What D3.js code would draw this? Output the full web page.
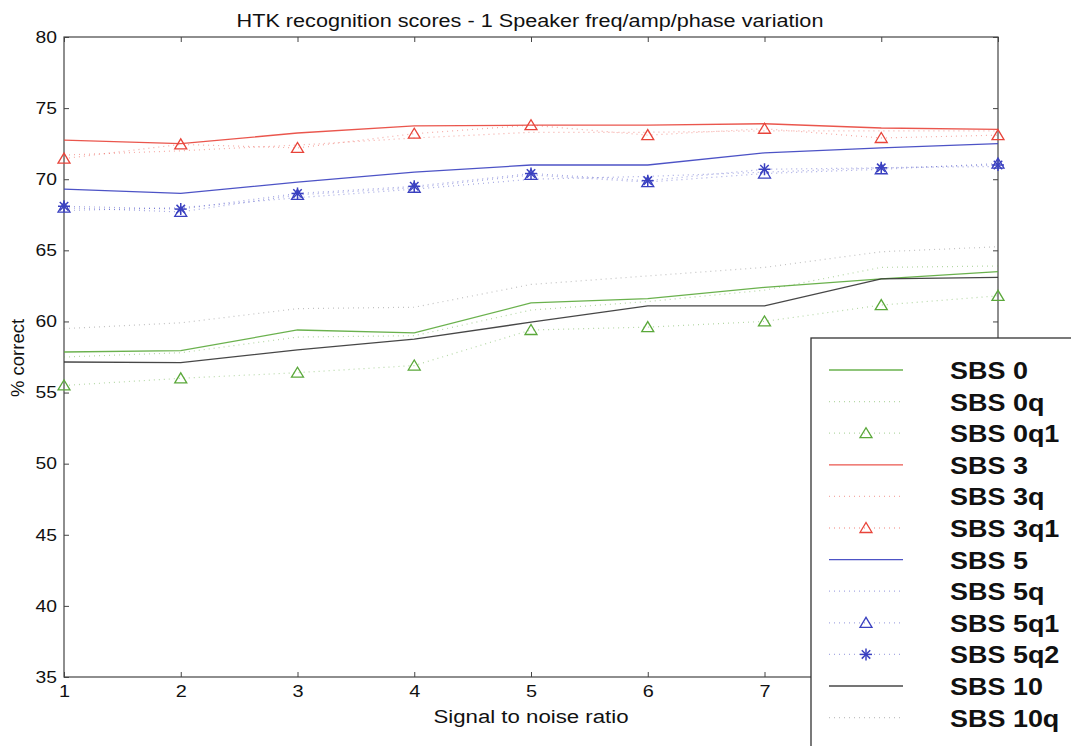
<!DOCTYPE html>
<html>
<head>
<meta charset="UTF-8">
<title>HTK</title>
<style>
  body { margin: 0; background: #fff; }
  text { font-family: Arial, "Liberation Sans", sans-serif; fill: #111; }
  .axis path, .axis line { stroke: #444; }
</style>
<script src="https://d3js.org/d3.v7.min.js"></script>
</head>
<body>
<div class="canvas"></div>
<script>
const snr = [1, 2, 3, 4, 5, 6, 7, 8, 9];
const yTicks = [35, 40, 45, 50, 55, 60, 65, 70, 75, 80];

const sbs0   = [57.85, 57.95, 59.4, 59.2, 61.3, 61.6, 62.4, 63.0, 63.5];
const sbs0q  = [57.5, 57.8, 58.9, 59.0, 60.8, 61.4, 62.2, 63.8, 63.9];
const sbs0q1 = [55.5, 56.0, 56.4, 56.9, 59.4, 59.6, 60.0, 61.15, 61.8];
const sbs3   = [72.75, 72.5, 73.25, 73.75, 73.8, 73.8, 73.9, 73.6, 73.5];
const sbs3q  = [71.7, 72.0, 72.4, 72.9, 73.3, 73.3, 73.4, 73.4, 73.4];
const sbs3q1 = [71.45, 72.45, 72.2, 73.2, 73.8, 73.1, 73.55, 72.9, 73.1];
const sbs5   = [69.3, 69.0, 69.8, 70.5, 71.0, 71.0, 71.85, 72.2, 72.5];
const sbs5q  = [67.8, 68.0, 68.7, 69.3, 70.0, 70.2, 70.5, 70.8, 70.9];
const sbs5q1 = [68.0, 67.7, 68.9, 69.4, 70.3, 69.8, 70.4, 70.7, 71.1];
const sbs5q2 = [68.1, 67.9, 69.0, 69.5, 70.4, 69.9, 70.7, 70.8, 71.0];
const sbs10  = [57.15, 57.1, 58.0, 58.75, 59.95, 61.1, 61.1, 63.0, 63.1];
const sbs10q = [59.5, 59.9, 60.9, 61.0, 62.6, 63.2, 63.8, 64.9, 65.25];

const green = '#5aa83a', red = '#e8443a', blue = '#3a40c0', black = '#333';

const series = [
  {name: 'SBS 0',   values: sbs0,   color: green, dash: null, marker: null},
  {name: 'SBS 0q',  values: sbs0q,  color: green, dash: '1,4', marker: null},
  {name: 'SBS 0q1', values: sbs0q1, color: green, dash: '1,4', marker: 'tri'},
  {name: 'SBS 3',   values: sbs3,   color: red,   dash: null, marker: null},
  {name: 'SBS 3q',  values: sbs3q,  color: red,   dash: '1,4', marker: null},
  {name: 'SBS 3q1', values: sbs3q1, color: red,   dash: '1,4', marker: 'tri'},
  {name: 'SBS 5',   values: sbs5,   color: blue,  dash: null, marker: null},
  {name: 'SBS 5q',  values: sbs5q,  color: blue,  dash: '1,4', marker: null},
  {name: 'SBS 5q1', values: sbs5q1, color: blue,  dash: '1,4', marker: 'tri'},
  {name: 'SBS 5q2', values: sbs5q2, color: blue,  dash: '1,4', marker: 'star'},
  {name: 'SBS 10',  values: sbs10,  color: black, dash: null, marker: null},
  {name: 'SBS 10q', values: sbs10q, color: '#777', dash: '1,4', marker: null}
];

const W = 1071, H = 746;
const mLeft = 64, mRight = 998, mTop = 37, mBottom = 677;
const stretch = 1.17; // the scanned figure is wider than tall

const svg = d3.select('.canvas').append('svg')
  .attr('width', W).attr('height', H);

const x = d3.scaleLinear().domain([1, 9]).range([mLeft, mRight]);
const y = d3.scaleLinear().domain([35, 80]).range([mBottom, mTop]);

// frame
svg.append('rect')
  .attr('x', mLeft).attr('y', mTop)
  .attr('width', mRight - mLeft).attr('height', mBottom - mTop)
  .attr('fill', 'none').attr('stroke', '#444').attr('stroke-width', 1.2);

// axes with inward ticks (labels 8 and 9 sit under the legend in the original)
const gx = svg.append('g').attr('class', 'axis')
  .attr('transform', `translate(0,${mBottom})`)
  .call(d3.axisBottom(x).tickValues(snr).tickSize(-5).tickPadding(8)
    .tickFormat(d => d <= 7 ? d3.format('d')(d) : ''));
gx.select('.domain').remove();
gx.selectAll('text').style('font-size', '17px').attr('transform', `scale(${stretch},1)`);

svg.append('g').attr('class', 'axis')
  .attr('transform', `translate(0,${mTop})`)
  .call(d3.axisTop(x).tickValues(snr).tickSize(-5).tickFormat(''))
  .select('.domain').remove();

const gy = svg.append('g').attr('class', 'axis')
  .attr('transform', `translate(${mLeft},0)`)
  .call(d3.axisLeft(y).tickValues(yTicks).tickSize(-5).tickPadding(6));
gy.select('.domain').remove();
gy.selectAll('text').style('font-size', '16.5px').attr('transform', `scale(${stretch},1)`);

svg.append('g').attr('class', 'axis')
  .attr('transform', `translate(${mRight},0)`)
  .call(d3.axisRight(y).tickValues(yTicks).tickSize(-5).tickFormat(''))
  .select('.domain').remove();

const line = d3.line().x((d, i) => x(snr[i])).y(d => y(d));

function triPath(cx, cy) {
  return `M${cx - 6},${cy + 4.5}L${cx},${cy - 5.5}L${cx + 6},${cy + 4.5}Z`;
}
function drawMarker(g, kind, cx, cy, color) {
  if (kind === 'tri') {
    g.append('path').attr('d', triPath(cx, cy))
      .attr('fill', 'none').attr('stroke', color).attr('stroke-width', 1.3);
  } else if (kind === 'star') {
    const r = 6;
    [0, 45, 90, 135].forEach(a => {
      const dx = r * Math.cos(a * Math.PI / 180), dy = r * Math.sin(a * Math.PI / 180);
      g.append('line')
        .attr('x1', cx - dx).attr('y1', cy - dy)
        .attr('x2', cx + dx).attr('y2', cy + dy)
        .attr('stroke', color).attr('stroke-width', 1.5);
    });
  }
}

const plot = svg.append('g');
series.forEach(s => {
  plot.append('path')
    .attr('d', line(s.values))
    .attr('fill', 'none')
    .attr('stroke', s.color)
    .attr('stroke-width', s.dash ? 1.2 : 1.3)
    .attr('stroke-opacity', s.dash ? 0.45 : 0.9)
    .attr('stroke-dasharray', s.dash);
  if (s.marker) {
    s.values.forEach((v, i) => drawMarker(plot, s.marker, x(snr[i]), y(v), s.color));
  }
});

// title and labels
svg.append('text')
  .attr('transform', `translate(530,27) scale(${stretch},1)`)
  .attr('text-anchor', 'middle')
  .style('font-size', '18.5px')
  .text('HTK recognition scores - 1 Speaker freq/amp/phase variation');

svg.append('text')
  .attr('transform', `translate(531,723) scale(${stretch},1)`)
  .attr('text-anchor', 'middle')
  .style('font-size', '19px')
  .text('Signal to noise ratio');

svg.append('text')
  .attr('transform', 'translate(24,358) rotate(-90)')
  .attr('text-anchor', 'middle')
  .style('font-size', '18.5px')
  .text('% correct');

// legend
const lg = svg.append('g');
lg.append('rect')
  .attr('x', 811).attr('y', 338)
  .attr('width', 300).attr('height', 450)
  .attr('fill', '#fff').attr('stroke', '#333').attr('stroke-width', 1.3);

series.forEach((s, i) => {
  const ly = 370 + i * 31.6;
  lg.append('line')
    .attr('x1', 829).attr('x2', 903)
    .attr('y1', ly).attr('y2', ly)
    .attr('stroke', s.color)
    .attr('stroke-width', 1.3)
    .attr('stroke-opacity', s.dash ? 0.45 : 0.9)
    .attr('stroke-dasharray', s.dash);
  if (s.marker) drawMarker(lg, s.marker, 866, ly, s.color);
  lg.append('text')
    .attr('transform', `translate(950,${ly + 9}) scale(1.1,1)`)
    .style('font-size', '24.5px')
    .style('font-weight', '600')
    .text(s.name);
});
</script>
</body>
</html>
